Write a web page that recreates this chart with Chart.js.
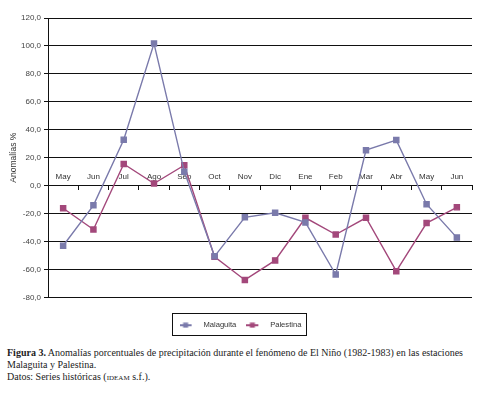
<!DOCTYPE html>
<html>
<head>
<meta charset="utf-8">
<script src="https://cdn.jsdelivr.net/npm/chart.js@4.4.1/dist/chart.umd.min.js"></script>
<style>
  html, body { margin: 0; padding: 0; background: #fff; }
  #wrap { position: absolute; left: 0; top: 0; width: 479px; height: 346px; }
  #cap { position: absolute; left: 7px; top: 347px; font-family: "Liberation Serif", serif; font-size: 10px; color: #222; line-height: 12px; white-space: nowrap; }
  #cap b { font-weight: bold; }
  .sc { font-variant: small-caps; }
</style>
</head>
<body>
<div id="wrap"><canvas id="c"></canvas></div>
<div id="cap"><b>Figura 3.</b> Anomalías porcentuales de precipitación durante el fenómeno de El Niño (1982-1983) en las estaciones<br>Malaguita y Palestina.<br>Datos: Series históricas (<span class="sc">ideam</span> s.f.).</div>
<script>
const categories = ["May","Jun","Jul","Ago","Sep","Oct","Nov","Dic","Ene","Feb","Mar","Abr","May","Jun"];
const malaguita = [-43.0, -14.1, 32.9, 101.7, 10.0, -50.6, -22.7, -19.4, -26.3, -63.6, 25.4, 32.6, -13.3, -37.2];
const palestina = [-16.2, -31.4, 15.5, 1.5, 14.6, -50.9, -67.5, -53.5, -23.0, -35.0, -23.0, -61.2, -26.8, -15.5];
const yTicks = { min: -80, max: 120, step: 20 };
const seriesNames = ["Malaguita", "Palestina"];
const seriesColors = ["#7a7aab", "#a3487b"];

const narrow = "'Liberation Sans Narrow', 'Arial Narrow', 'Liberation Sans', sans-serif";

function legendIcon(color) {
  const cv = document.createElement('canvas');
  cv.width = 20; cv.height = 6;
  const g = cv.getContext('2d');
  g.strokeStyle = color; g.lineWidth = 2;
  g.beginPath(); g.moveTo(0, 3); g.lineTo(12, 3); g.stroke();
  g.fillStyle = color; g.fillRect(3.5, 0.5, 5, 5);
  return cv;
}

const legendBorder = {
  id: 'legendBorder',
  afterDraw(chart) {
    const lg = chart.legend;
    if (!lg || !lg.legendHitBoxes || !lg.legendHitBoxes.length) return;
    let x0 = Infinity, x1 = -Infinity, y0 = Infinity, y1 = -Infinity;
    lg.legendHitBoxes.forEach(b => {
      x0 = Math.min(x0, b.left); x1 = Math.max(x1, b.left + b.width);
      y0 = Math.min(y0, b.top); y1 = Math.max(y1, b.top + b.height);
    });
    const cy = (y0 + y1) / 2;
    const ctx = chart.ctx;
    ctx.save();
    ctx.strokeStyle = '#111'; ctx.lineWidth = 1;
    ctx.strokeRect(Math.round(x0 - 8) + 0.5, Math.round(cy - 12) + 0.5, Math.round(x1 - x0 + 12), 22);
    ctx.restore();
  }
};

new Chart(document.getElementById('c'), {
  type: 'line',
  data: {
    labels: categories,
    datasets: [malaguita, palestina].map((d, i) => ({
      label: seriesNames[i],
      data: d,
      borderColor: seriesColors[i],
      backgroundColor: seriesColors[i],
      borderWidth: 1.4,
      pointStyle: 'rect',
      pointRadius: 3.6,
      pointHoverRadius: 3.6,
      tension: 0,
      fill: false
    }))
  },
  options: {
    responsive: true,
    maintainAspectRatio: false,
    animation: false,
    layout: { padding: { top: 18, right: 7, bottom: 7, left: 9 } },
    plugins: {
      tooltip: { enabled: false },
      legend: {
        position: 'bottom',
        title: { display: true, text: ' ', font: { size: 8 }, padding: { top: 2, bottom: 2.4 } },
        labels: {
          usePointStyle: true,
          pointStyleWidth: 20,
          boxHeight: 6,
          padding: 10,
          color: '#333',
          font: { family: narrow, size: 7.6 },
          generateLabels(chart) {
            return chart.data.datasets.map((ds, i) => ({
              text: ds.label,
              pointStyle: legendIcon(seriesColors[i]),
              fillStyle: seriesColors[i],
              strokeStyle: seriesColors[i],
              lineWidth: 0,
              fontColor: '#333',
              datasetIndex: i,
              hidden: false
            }));
          }
        }
      }
    },
    scales: {
      x: {
        type: 'category',
        offset: true,
        position: { y: 0 },
        grid: { display: true, drawOnChartArea: false, drawTicks: true, tickLength: 4, color: '#111', offset: true },
        border: { display: true, color: '#111' },
        ticks: { padding: -18, color: '#333', font: { family: narrow, size: 8 }, maxRotation: 0, autoSkip: false }
      },
      y: {
        min: yTicks.min,
        max: yTicks.max,
        afterFit(scale) { scale.width = 39; },
        ticks: {
          stepSize: yTicks.step,
          padding: 3,
          color: '#444',
          font: { family: narrow, size: 8 },
          callback: v => v.toFixed(1).replace('.', ',')
        },
        grid: { color: '#111', lineWidth: 1, tickLength: 4, drawTicks: true },
        border: { display: true, color: '#111' },
        title: { display: true, text: 'Anomalías %', color: '#333', font: { family: narrow, size: 8.5 }, padding: { top: 0, bottom: 2 } }
      }
    }
  },
  plugins: [legendBorder]
});
</script>
</body>
</html>
